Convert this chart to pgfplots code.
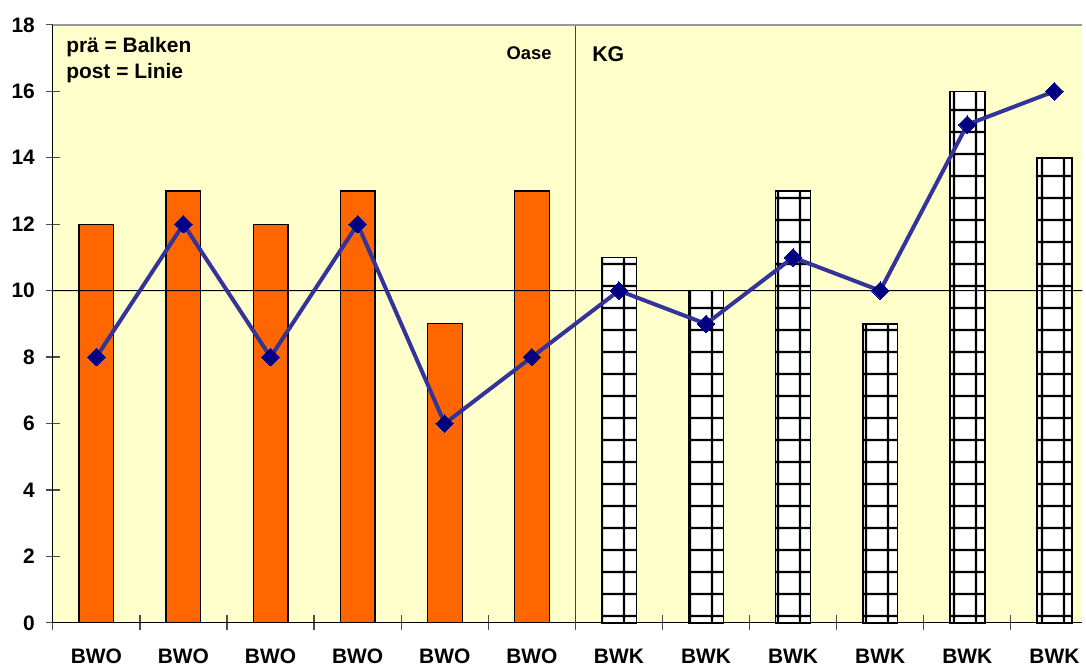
\documentclass[border=0pt]{standalone}
\usepackage{fontspec}
\setmainfont{Liberation Sans}
\usepackage{pgfplots}
\pgfplotsset{compat=1.18}
\usetikzlibrary{patterns.meta}
\definecolor{bgyellow}{RGB}{255,255,204}
\definecolor{barorange}{RGB}{255,102,0}
\definecolor{lineblue}{RGB}{51,51,153}
\definecolor{marknavy}{RGB}{0,0,128}

\tikzdeclarepattern{
  name=biggrid,
  type=uncolored,
  bounding box={(0,0) and (11pt,11pt)},
  tile size={(11pt,11pt)},
  code={
    \draw[line width=1.1pt] (0,5.5pt) -- (11pt,5.5pt) (5.5pt,0) -- (5.5pt,11pt);
  }
}

\begin{document}
\begin{tikzpicture}
\begin{axis}[
    scale only axis,
    width=516.5pt, height=300pt,
    xmin=-0.5, xmax=11.32,
    ymin=0, ymax=18,
    ytick={0,2,...,18},
    xtick={0,...,11},
    xticklabels={BWO,BWO,BWO,BWO,BWO,BWO,BWK,BWK,BWK,BWK,BWK,BWK},
    minor xtick={-0.5,0.5,...,10.5},
    axis x line*=bottom,
    axis y line*=left,
    axis line style={black, line width=0.6pt, -},
    tick align=center,
    major tick length=7pt,
    minor tick length=7.5pt,
    xtick style={draw=none},
    minor x tick style={draw=black!70, line width=0.6pt},
    ytick style={draw=black!70, line width=0.6pt},
    font=\fontsize{10.5}{12}\selectfont\bfseries,
    ticklabel style={font=\fontsize{10.5}{12}\selectfont\bfseries},
    xticklabel style={yshift=-6pt},
    yticklabel style={xshift=-2pt},
    /pgf/number format/assume math mode=true,
    axis background/.style={fill=bgyellow},
    clip=false,
  ]
  % Oase (prä) bars
  \addplot[ybar, bar shift=0pt, bar width=0.4, fill=barorange, draw=black, line width=0.6pt]
    coordinates {(0,12) (1,13) (2,12) (3,13) (4,9) (5,13)};
  % KG (prä) bars
  \addplot[ybar, bar shift=0pt, bar width=0.4, fill=white, draw=none]
    coordinates {(6,11) (7,10) (8,13) (9,9) (10,16) (11,14)};
  \addplot[ybar, bar shift=0pt, bar width=0.4, pattern=biggrid, pattern color=black, draw=black, line width=0.8pt]
    coordinates {(6,11) (7,10) (8,13) (9,9) (10,16) (11,14)};
  % reference lines
  \draw[black, line width=0.5pt] (axis cs:-0.5,10) -- (rel axis cs:1,0.5556);
  \draw[black!75, line width=0.6pt] (axis cs:5.5,0) -- (axis cs:5.5,18);
  \draw[black!40, line width=0.8pt] (rel axis cs:0,1) -- (rel axis cs:1,1);
  % post line
  \addplot[color=lineblue, line width=2pt, mark=square*,
      mark size=3.1pt, mark options={rotate=45, fill=marknavy, draw=marknavy, line width=0pt}]
    coordinates {(0,8) (1,12) (2,8) (3,12) (4,6) (5,8) (6,10) (7,9) (8,11) (9,10) (10,15) (11,16)};
  \node[anchor=north west, align=left, inner sep=0pt, font=\fontsize{10.5}{13.5}\selectfont\bfseries]
    at (axis cs:-0.35,17.65) {prä = Balken\\post = Linie};
  \node[anchor=base east, inner sep=0pt, font=\fontsize{9.2}{11}\selectfont\bfseries]
    at (axis cs:5.23,16.95) {Oase};
  \node[anchor=base west, inner sep=0pt, font=\fontsize{10.7}{12}\selectfont\bfseries]
    at (axis cs:5.69,16.9) {KG};
  \coordinate (bl) at (rel axis cs:0,0);
  \coordinate (tr) at (rel axis cs:1,1);
\end{axis}
\path (bl) ++(-26.5pt,-20.5pt) (tr) ++(0,12.5pt);
\end{tikzpicture}
\end{document}
